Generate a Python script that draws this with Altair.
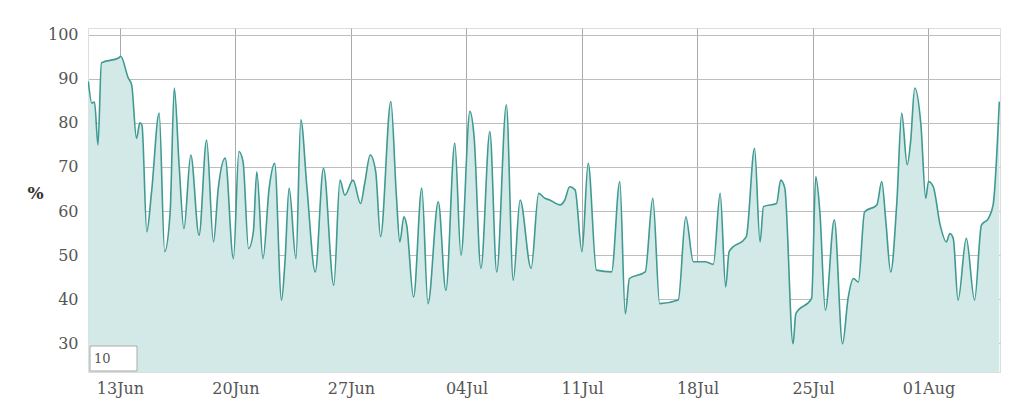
import altair as alt
import pandas as pd

times = [
    "2016-06-11 02:00", "2016-06-11 07:00", "2016-06-11 11:00", "2016-06-11 16:00", "2016-06-11 21:00",
    "2016-06-12 22:00", "2016-06-13 01:00", "2016-06-13 12:00", "2016-06-13 17:00", "2016-06-14 00:00",
    "2016-06-14 05:00", "2016-06-14 08:00", "2016-06-14 15:00", "2016-06-14 22:00", "2016-06-15 09:00",
    "2016-06-15 17:00", "2016-06-16 01:00", "2016-06-16 07:00", "2016-06-16 14:00", "2016-06-16 21:00",
    "2016-06-17 07:00", "2016-06-17 19:00", "2016-06-18 06:00", "2016-06-18 16:00", "2016-06-18 23:00",
    "2016-06-19 09:00", "2016-06-19 21:00", "2016-06-20 05:00", "2016-06-20 11:00", "2016-06-20 19:00",
    "2016-06-21 02:00", "2016-06-21 07:00", "2016-06-21 16:00", "2016-06-22 01:00", "2016-06-22 09:00",
    "2016-06-22 19:00", "2016-06-23 00:00", "2016-06-23 06:00", "2016-06-23 16:00", "2016-06-23 23:00",
    "2016-06-24 08:00", "2016-06-24 20:00", "2016-06-25 08:00", "2016-06-25 23:00", "2016-06-26 08:00",
    "2016-06-26 15:00", "2016-06-27 03:00", "2016-06-27 14:00", "2016-06-27 20:00", "2016-06-28 04:00",
    "2016-06-28 12:00", "2016-06-28 19:00", "2016-06-29 10:00", "2016-06-29 18:00", "2016-06-29 23:00",
    "2016-06-30 05:00", "2016-06-30 09:00", "2016-06-30 19:00", "2016-07-01 07:00", "2016-07-01 16:00",
    "2016-07-02 07:00", "2016-07-02 18:00", "2016-07-03 07:00", "2016-07-03 16:00", "2016-07-04 05:00",
    "2016-07-04 11:00", "2016-07-04 21:00", "2016-07-05 10:00", "2016-07-05 20:00", "2016-07-06 10:00",
    "2016-07-06 20:00", "2016-07-07 06:00", "2016-07-07 22:00", "2016-07-08 09:00", "2016-07-08 18:00",
    "2016-07-09 01:00", "2016-07-09 16:00", "2016-07-09 23:00", "2016-07-10 06:00", "2016-07-10 14:00",
    "2016-07-11 00:00", "2016-07-11 09:00", "2016-07-11 21:00", "2016-07-12 19:00", "2016-07-13 07:00",
    "2016-07-13 15:00", "2016-07-13 21:00", "2016-07-14 20:00", "2016-07-15 07:00", "2016-07-15 17:00",
    "2016-07-16 20:00", "2016-07-17 07:00", "2016-07-17 18:00", "2016-07-18 11:00", "2016-07-18 23:00",
    "2016-07-19 09:00", "2016-07-19 17:00", "2016-07-19 22:00", "2016-07-20 23:00", "2016-07-21 11:00",
    "2016-07-21 19:00", "2016-07-22 00:00", "2016-07-22 19:00", "2016-07-23 01:00", "2016-07-23 07:00",
    "2016-07-23 19:00", "2016-07-23 23:00", "2016-07-24 22:00", "2016-07-25 04:00", "2016-07-25 10:00",
    "2016-07-25 18:00", "2016-07-26 07:00", "2016-07-26 19:00", "2016-07-27 03:00", "2016-07-27 11:00",
    "2016-07-27 18:00", "2016-07-28 03:00", "2016-07-28 21:00", "2016-07-29 04:00", "2016-07-29 10:00",
    "2016-07-29 17:00", "2016-07-30 02:00", "2016-07-30 09:00", "2016-07-30 17:00", "2016-07-30 22:00",
    "2016-07-31 04:00", "2016-07-31 13:00", "2016-07-31 20:00", "2016-08-01 00:00", "2016-08-01 07:00",
    "2016-08-01 17:00", "2016-08-02 02:00", "2016-08-02 07:00", "2016-08-02 12:00", "2016-08-02 19:00",
    "2016-08-03 07:00", "2016-08-03 19:00", "2016-08-04 05:00", "2016-08-04 15:00", "2016-08-04 22:00",
    "2016-08-05 07:00",
]

humidity = [
    89.4, 84.5, 84.7, 75.0, 93.6,
    94.7, 95.1, 90.2, 88.6, 76.5,
    80.0, 79.5, 55.3, 64.4, 82.2,
    50.8, 59.8, 87.9, 70.5, 56.0,
    72.7, 54.5, 76.1, 53.0, 65.2,
    72.0, 49.2, 73.5, 71.2, 51.5,
    55.3, 68.9, 49.2, 65.2, 70.8,
    39.8, 48.5, 65.2, 49.2, 80.7,
    65.2, 46.2, 69.7, 43.2, 67.0,
    63.6, 67.0, 61.7, 66.3, 72.7,
    68.9, 54.2, 84.8, 63.6, 53.0,
    58.7, 56.8, 40.5, 65.2, 39.0,
    62.1, 42.0, 75.4, 50.0, 82.6,
    77.0, 47.0, 78.0, 46.2, 84.1,
    44.3, 62.5, 47.0, 64.0, 62.9,
    62.5, 61.4, 62.5, 65.5, 64.8,
    50.8, 70.8, 46.6, 46.2, 66.7,
    36.7, 44.7, 46.2, 62.9, 39.0,
    39.8, 58.7, 48.5, 48.5, 47.9,
    64.0, 42.8, 50.8, 54.2, 74.2,
    53.0, 61.0, 61.7, 67.0, 65.2,
    29.9, 36.7, 40.2, 67.8, 59.8,
    37.5, 58.0, 29.9, 40.2, 44.7,
    43.9, 59.8, 61.4, 66.7, 57.6,
    46.2, 62.1, 82.2, 70.5, 75.8,
    87.9, 79.5, 62.9, 66.7, 65.5,
    56.8, 53.0, 54.9, 53.8, 39.8,
    53.8, 39.8, 56.8, 58.3, 61.4,
    84.8,
]

tick_dates = [(2016, 6, 13), (2016, 6, 20), (2016, 6, 27), (2016, 7, 4),
              (2016, 7, 11), (2016, 7, 18), (2016, 7, 25), (2016, 8, 1)]
y_ticks = [30, 40, 50, 60, 70, 80, 90, 100]
roll_period = "10"

df = pd.DataFrame({"time": pd.to_datetime(times), "value": humidity})

FONT = "DejaVu Serif"
LINE = "#3f9a92"
FILL = "#d3e9e7"

x_scale = alt.Scale(domain=[alt.DateTime(year=2016, month=6, date=11, hours=1, minutes=30),
                            alt.DateTime(year=2016, month=8, date=5, hours=8)])
y_scale = alt.Scale(domain=[23.5, 101.5], zero=False, nice=False)

x_enc = alt.X("time:T", scale=x_scale,
              axis=alt.Axis(values=[alt.DateTime(year=y, month=m, date=d) for y, m, d in tick_dates],
                            format="%d%b", title=None, labelFont=FONT, labelFontSize=16,
                            labelColor="#555555", labelPadding=8, ticks=False,
                            domainColor="#dddddd", gridColor="#aaaaaa", gridWidth=1,
                            labelFlush=False))
y_enc = alt.Y("value:Q", scale=y_scale,
              axis=alt.Axis(values=y_ticks, title="%", titleAngle=0, titleFont=FONT,
                            titleFontSize=17, titleFontWeight="bold", titleColor="#333333",
                            titleX=-53, titleY=165, titleAlign="center", titleBaseline="middle",
                            labelFont=FONT, labelFontSize=16, labelColor="#555555",
                            labelPadding=10, ticks=False, domainColor="#dddddd",
                            gridColor="#bdbdbd", gridWidth=1))

area = alt.Chart(df).mark_area(color=FILL, opacity=1, clip=True, interpolate="monotone").encode(
    x=x_enc, y=y_enc)
line = alt.Chart(df).mark_line(color=LINE, strokeWidth=1.6, clip=True, interpolate="monotone").encode(
    x="time:T", y="value:Q")

box_df = pd.DataFrame({"label": [roll_period]})
box = alt.Chart(box_df).mark_rect(fill="white", stroke="#aaaaaa", strokeWidth=1).encode(
    x=alt.value(2), x2=alt.value(49), y=alt.value(318), y2=alt.value(343))
box_text = alt.Chart(box_df).mark_text(font=FONT, fontSize=13, color="#555555",
                                       align="left", baseline="middle").encode(
    x=alt.value(6), y=alt.value(331), text="label:N")

chart = alt.layer(area, line, box, box_text).properties(
    width=912, height=344,
    autosize=alt.AutoSizeParams(type="none"),
    padding={"left": 80, "top": 20, "right": 16, "bottom": 36},
).configure_view(stroke=None).configure(background="white")

chart.save("out.html", embed_options={"renderer": "svg", "actions": False})
